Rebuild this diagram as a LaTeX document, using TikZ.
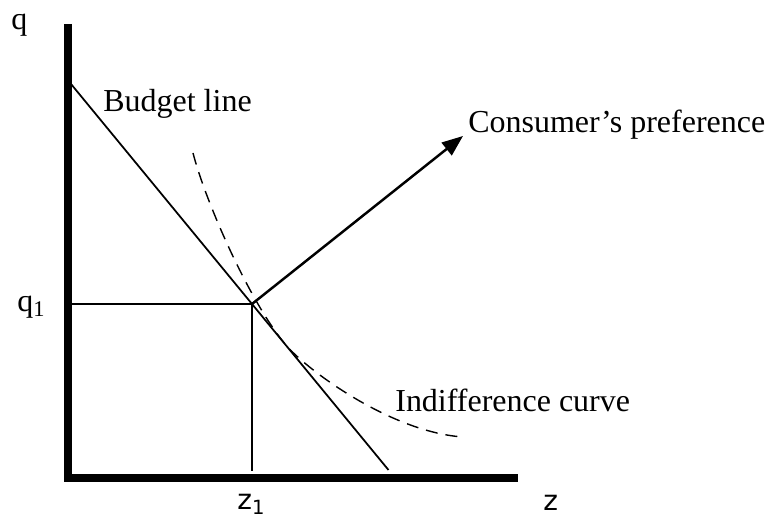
\documentclass[tikz,border=0pt]{standalone}
\usepackage{fontspec}
\setmainfont{Liberation Serif}
\newfontfamily\axisfont{DejaVu Sans}
\usetikzlibrary{arrows.meta}

\begin{document}
\begin{tikzpicture}[
  lbl/.style={font=\fontsize{18.2}{22}\selectfont, inner sep=0pt, anchor=base west},
  axlbl/.style={font=\axisfont\fontsize{15.9}{19}\selectfont, inner sep=0pt, anchor=base west},
  thinline/.style={line width=1pt}]
  \useasboundingbox (0,0) rectangle (15.5,10.34);
  % Axes
  \coordinate (top) at (1.35,9.86);
  \coordinate (origin) at (1.35,0.77);
  \coordinate (right) at (10.36,0.77);
  \draw[line width=0.16cm] (top) -- (origin) -- (right);
  \node[lbl] (qlab) at (0.22,9.74) {q};
  \node[axlbl] (zlab) at (10.86,0.12) {z};
  % Budget line and optimum
  \coordinate (bstart) at (1.42,8.66);
  \coordinate (P) at (5.04,4.26);
  \coordinate (bend) at (7.77,0.94);
  \coordinate (qaxis) at (1.35,4.26);
  \coordinate (zfoot) at (5.04,0.91);
  \draw[thinline] (bstart) -- (P) -- (bend);
  \draw[thinline] (qaxis) -- (P) -- (zfoot);
  \node[lbl] (q1lab) at (0.34,4.10) {q\textsubscript{1}};
  \node[axlbl] (z1lab) at (4.74,0.14) {z\textsubscript{1}};
  \node[lbl] (budget) at (2.06,8.10) {Budget line};
  % Indifference curve
  \coordinate (ic0) at (3.86,7.28);
  \coordinate (T) at (5.70,3.46);
  \coordinate (ic1) at (9.26,1.60);
  \draw[line width=0.8pt, dash pattern=on 0.24cm off 0.16cm]
    (ic0) .. controls (4.10,6.34) and (4.97,4.34) .. (T)
          .. controls (6.10,2.97) and (7.80,1.70) .. (ic1);
  \node[lbl] (indiff) at (7.90,2.10) {Indifference curve};
  % Preference direction
  \coordinate (pref) at (9.26,7.62);
  \draw[line width=1.4pt, -{Triangle[length=0.42cm,width=0.32cm]}] (P) -- (pref);
  \node[lbl] (preflab) at (9.36,7.68) {Consumer's preference};
\end{tikzpicture}
\end{document}
